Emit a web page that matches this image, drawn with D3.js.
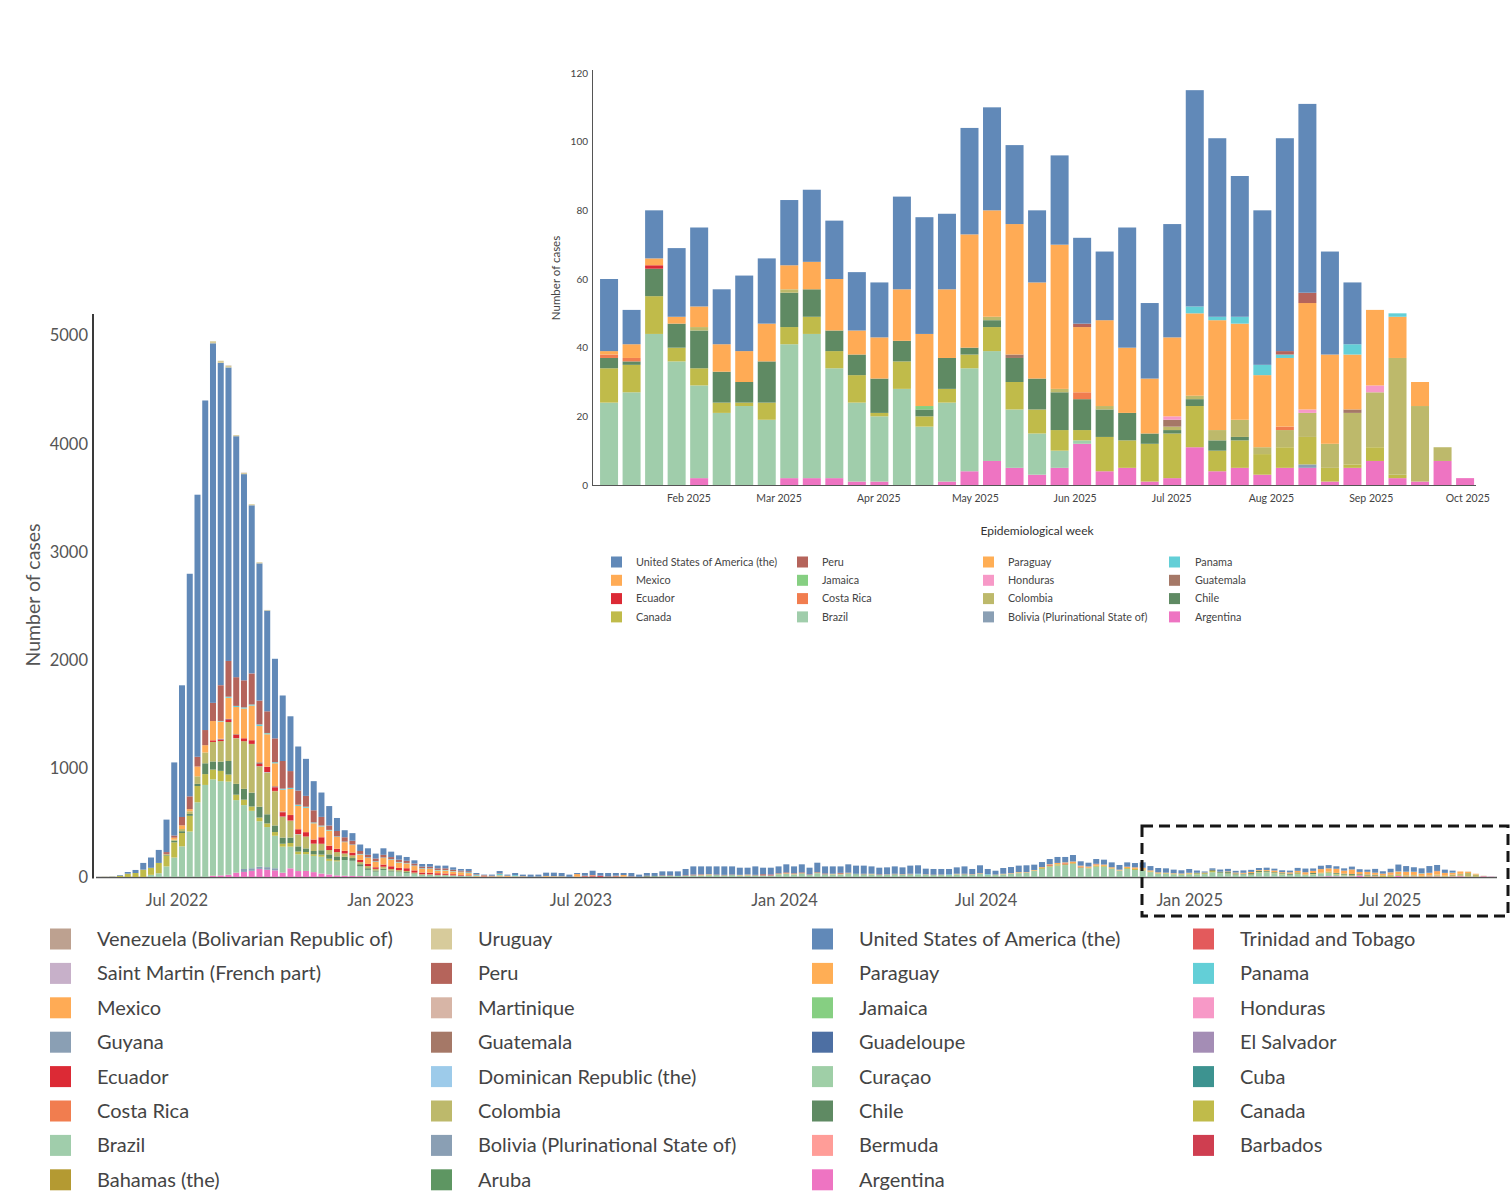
<!DOCTYPE html>
<html><head><meta charset="utf-8">
<script src="https://cdn.jsdelivr.net/npm/d3@7"></script>
<style>
body{margin:0;background:#fff;}
text{font-family:Lato,"Open Sans",sans-serif;}
</style>
</head><body>
<svg id="chart" width="1511" height="1196"></svg>
<script>
// ---------- categories (stack order bottom -> top) ----------
const countries = ["Argentina","Aruba","Bahamas (the)","Barbados","Bermuda","Bolivia (Plurinational State of)","Brazil","Canada","Chile","Colombia","Costa Rica","Cuba","Curaçao","Dominican Republic (the)","Ecuador","El Salvador","Guadeloupe","Guatemala","Guyana","Honduras","Jamaica","Martinique","Mexico","Panama","Paraguay","Peru","Saint Martin (French part)","Trinidad and Tobago","United States of America (the)","Uruguay","Venezuela (Bolivarian Republic of)"];
const countryColors = ["#ee74c2","#5e9662","#b49a32","#cf3e50","#ff9d98","#8a9fb4","#a0cdab","#c0bb4a","#5f8a63","#bdb96b","#f17d4f","#3d9390","#9fcfa7","#9dcbea","#dc2a35","#a48db5","#4d6fa3","#a57867","#8a9fb4","#f799c7","#86cf82","#d7b5a6","#ffab55","#63cfd7","#ffae55","#b5645b","#c7b0c9","#e35a5c","#6189b8","#d7cb9b","#bda190"];
const insetCountries = ["Argentina","Bolivia (Plurinational State of)","Brazil","Canada","Chile","Colombia","Costa Rica","Ecuador","Guatemala","Honduras","Jamaica","Mexico","Panama","Paraguay","Peru","United States of America (the)"];

// ---------- weekly series, 23 Apr 2022 - 28 Dec 2024 (141 weeks) ----------
const preUSA = [0,1,6,15,28,62,95,120,300,675,
1216,2055,2420,3043,3320,2975,2710,2225,1904,1552,
1267,930,735,605,506,407,342,269,225,180,
120,65,70,60,60,45,60,50,40,35,
30,25,25,25,25,22,15,20,10,5,
10,20,10,20,15,20,18,30,32,30,
20,10,25,40,25,30,25,19,30,20,
25,27,37,37,42,57,75,73,73,75,
78,75,66,63,78,60,63,63,74,63,
74,61,87,65,68,60,77,75,75,68,
61,65,68,64,75,78,53,52,52,50,
59,68,49,74,48,36,53,57,60,63,
49,47,48,55,50,60,40,35,44,45,
45,43,40,40,50,40,40,40,33,30,
35];
const preBrazil = [0,0,0,0,0,0,20,35,98,180,
283,420,690,850,890,870,860,670,590,530,
420,370,300,240,200,155,155,150,155,125,
130,145,140,90,60,45,60,45,40,35,
25,15,15,12,12,10,8,8,4,3,
3,5,2,3,2,2,2,3,3,3,
2,2,3,4,2,2,3,3,3,2,
3,5,10,10,10,12,15,15,15,18,
15,18,15,15,15,15,15,25,30,25,
30,20,35,25,25,25,30,25,25,25,
20,20,25,20,25,25,20,18,18,18,
25,25,20,28,20,18,25,30,35,40,
55,75,95,105,110,120,85,80,95,95,
75,60,75,65,60,45,30,30,25,22,
25];
const preCanada = [1,2,12,31,37,68,65,95,100,140,
123,145,150,100,90,95,65,50,50,40,
34,34,34,27,34,25,20,15,20,20,
10,0,0,0,0,0,0,0,0,0,
0,0,0,0,0,0,0,0,0,0,
0,0,0,0,0,0,0,0,0,0,
0,0,0,0,0,0,0,0,0,0,
0,0,0,0,0,0,0,0,5,0,
0,0,0,0,0,0,0,5,0,0,
0,0,0,0,0,0,0,0,0,0,
0,0,0,0,0,0,0,0,0,0,
0,0,0,0,0,0,0,0,5,0,
0,8,10,10,8,0,5,5,10,8,
5,0,8,10,10,6,5,5,5,5,
8];
const preChile = [0,0,0,0,0,0,0,0,10,15,
17,17,20,100,75,85,125,100,100,128,
100,84,61,57,50,48,33,30,40,40,
35,30,25,20,15,10,12,10,8,8,
6,4,4,3,3,2,2,0,0,0,
0,0,0,0,0,0,0,0,0,0,
0,0,0,0,0,0,0,0,0,0,
5,5,0,0,0,0,0,0,0,0,
0,0,0,0,0,0,0,0,0,0,
0,0,0,0,0,0,0,5];
const preColombia = [0,0,0,0,0,0,0,0,0,10,
20,25,70,100,180,190,360,420,440,450,
370,385,316,190,155,110,110,68,60,40,
40,30,25,20,20,15,18,14,12,10,
8,6,6,5,5,4,3,3,0,0,
0,0,0,0,0,0,0,0,0,0,
0,0,0,0,0,0,0,0,0,0,
0,0,0,0,0,0,0,0,0,0,
0,0,0,0,0,0,0,0,0,0,
5,0,5,0,0,0,5,0,0,0,
0,0,0,0,0,0,0,0,0,0,
0,0,0,0,0,0,0,0,0,0,
5,0,0,5,0,8];
const preEcuador = [0,0,0,0,0,0,0,0,0,0,
0,0,0,0,15,15,25,35,27,34,
20,50,34,40,50,45,40,38,60,40,
30,25,25,20,20,15,20,25,20,25,
20,15,15,15,12,10,6,5,0,4,
0,0,0,0,0,0,0,0,0,0,
0,0,5,10,10,0,4,0,0,0,
0,0,0,0,0,0,0,0,0,0,
0,0,0,0,0,3,8,0,0,0,
0,0,0,0,0,0,0,0,0,0,
0,0,0,0,0,0,0,0,0,0,
0,0,0,0,0,0,0,0,0,0,
0,0,5,0,7,0,5];
const preMexico = [0,0,0,0,0,0,0,0,5,18,
34,20,90,67,178,160,195,250,275,320,
335,300,212,200,240,215,225,150,100,140,
110,80,70,50,55,50,60,60,50,45,
40,35,35,25,28,25,25,20,8,5,
4,10,10,4,5,0,2,7,5,4,
0,25,4,4,0,0,5,15,0,0,
0,0,0,0,0,0,0,5,5,0,
0,0,5,8,0,0,0,0,5,5,
0,0,0,0,5,5,0,0,0,5,
0,4,0,5,0,0,4,0,4,0,
5,0,5,6,0,4,5,5,5,5,
5,8,8,10,10,15,10,12,12,12,
10,8,12,14,15,10,8,5,5,5,
6];
const prePeru = [0,0,0,0,0,0,0,0,17,20,
77,118,90,140,168,330,330,265,250,285,
220,200,220,255,155,130,100,112,80,40,
50,40,35,27,24,26,25,20,21,20,
18,14,15,15,15,12,10,10,5,5,
5,5,0,0,0,0,0,0,0,0,
0,0,0,0,0,5,0,0,4,0,
4,0,5,5,0,5,8,5,0,5,
5,5,0,0,5,8,0,5,8,5,
8,5,5,8,0,8,5,0,5,0,
5,0,5,0,5,0,0,4,0,0,
0,5,0,0,0,0,0,0,0,0,
0,0,0,0,0,0,0,0,5];
const preArgentina = [0,0,0,0,0,0,0,0,0,0,
0,0,0,0,10,15,20,40,47,57,
74,67,61,40,80,55,55,45,32,24,
15,12,10,8,6,5,5,5,4,3,
2,1];
const prePanama = [0,0,0,0,0,0,0,0,0,0,
0,0,0,0,0,5,10,10,10,10,
15,10,10,10,10,10,10,8,8,6,
5,5,5,5,5,5,5,5,5,4,
5,5,5,5,5,4,5,8,10,0,
0,15,0,10,0,0,0,0,0,0,
0,0,0,0,0,0,0,0,0,0,
0,0,0,0,0,0,0,0,0,0,
0,0,0,0,0,0,0,0,0,0,
0,0,0,0,0,0,0,0,0,0,
0,0,0,0,0,5,0,0,0,6,
0,0,0,0,6];
// small series as [week, cases]
const preBolivia = [[18,27],[19,24],[20,20],[21,24],[22,20]];
const preGuatemala = [[20,15],[22,7],[23,6]];
const preUruguay = [[14,19],[15,20],[16,15],[17,10],[18,10],[19,10],[20,10],[21,6]];
const preCostaRica = [[20,3],[22,3],[24,3]];
const preDominican = [[21,4],[23,4],[25,3]];
const preVenezuela = [[16,3],[18,3]];
const preGuadeloupe = [[15,3],[16,4]];
const preMartinique = [[15,3]];
const preJamaica = [[17,3]];
const preCuba = [[20,2]];
const preElSalvador = [[22,2]];
const preHonduras = [[23,2]];
const preParaguay = [[21,2],[25,2]];
const preGuyana = [[24,1]];
const preBahamas = [[14,2]];
const preAruba = [[20,1]];
const preBarbados = [[26,1]];
const preBermuda = [[16,1]];
const preSaintMartin = [[15,1]];
const preCuracao = [[17,2]];
const preTrinidad = [[19,2]];

// ---------- weekly series 2025 (39 weeks from 4 Jan 2025) ----------
const insetUSA = [21,10,14,20,23,16,22,19,19,21,17,17,16,27,34,22,31,30,23,21,26,25,20,35,22,33,63,52,41,45,62,55,30,18,0,0,0,0,0];
const insetBrazil = [24,27,44,36,27,21,23,19,39,42,32,23,19,28,17,23,30,32,17,12,5,1,0,0,0,0,0,0,0,0,0,0,0,0,0,0,0,0,0];
const insetCanada = [10,8,11,4,5,3,1,5,5,5,5,8,1,8,3,4,4,7,8,7,6,3,10,8,11,13,12,6,8,6,6,8,4,1,4,1,0,0,0];
const insetChile = [3,1,8,7,11,9,6,12,10,8,6,6,10,6,2,9,2,2,7,9,11,9,8,8,3,1,2,3,1,0,0,0,0,0,0,0,0,0,0];
const insetMexico = [1,4,2,2,6,8,9,11,7,8,15,7,12,15,21,20,33,31,38,28,42,19,25,19,16,23,24,32,28,21,20,31,26,16,22,12,7,0,0];
const insetArgentina = [0,0,0,0,2,0,0,0,2,2,2,1,1,0,0,1,4,7,5,3,5,12,4,5,1,2,11,4,5,3,5,5,1,5,7,2,1,7,2];
const insetColombia = [0,0,0,0,1,0,0,0,1,0,0,0,0,0,0,0,0,1,0,0,1,0,1,0,0,1,1,3,5,2,5,7,7,15,16,34,22,4,0];
const insetCostaRica = [[0,1],[1,1],[21,2],[30,1]];
const insetEcuador = [[2,1]];
const insetPanama = [[26,2],[27,1],[28,2],[29,3],[30,1],[33,3],[35,1]];
const insetPeru = [[21,1],[30,1],[31,3]];
const insetGuatemala = [[18,1],[25,2],[33,1]];
const insetHonduras = [[25,1],[31,1],[34,2]];
const insetJamaica = [[14,1]];
const insetBolivia = [[31,1]];
const insetParaguay = [];

// ---------- tick labels ----------
const mainTickLabels = ["Jul 2022","Jan 2023","Jul 2023","Jan 2024","Jul 2024","Jan 2025","Jul 2025"];
const mainYTicks = [0,1000,2000,3000,4000,5000];
const insetTickLabels = ["Feb 2025","Mar 2025","Apr 2025","May 2025","Jun 2025","Jul 2025","Aug 2025","Sep 2025","Oct 2025"];
const insetYTicks = [0,20,40,60,80,100,120];

// ---------- build tables ----------
const N_PRE = 141, N_INSET = 39;
function dense(a, n){
  const out = new Array(n).fill(0);
  if (a.length && Array.isArray(a[0])) a.forEach(([i,v]) => out[i] = v);
  else a.forEach((v,i) => out[i] = v);
  return out;
}
const preTable = {
  "United States of America (the)": preUSA, "Brazil": preBrazil, "Canada": preCanada, "Chile": preChile,
  "Colombia": preColombia, "Ecuador": preEcuador, "Mexico": preMexico, "Peru": prePeru,
  "Argentina": preArgentina, "Panama": prePanama, "Bolivia (Plurinational State of)": preBolivia,
  "Guatemala": preGuatemala, "Uruguay": preUruguay, "Costa Rica": preCostaRica,
  "Dominican Republic (the)": preDominican, "Venezuela (Bolivarian Republic of)": preVenezuela,
  "Guadeloupe": preGuadeloupe, "Martinique": preMartinique, "Jamaica": preJamaica, "Cuba": preCuba,
  "El Salvador": preElSalvador, "Honduras": preHonduras, "Paraguay": preParaguay, "Guyana": preGuyana,
  "Bahamas (the)": preBahamas, "Aruba": preAruba, "Barbados": preBarbados, "Bermuda": preBermuda,
  "Saint Martin (French part)": preSaintMartin, "Curaçao": preCuracao, "Trinidad and Tobago": preTrinidad
};
const insetTable = {
  "United States of America (the)": insetUSA, "Brazil": insetBrazil, "Canada": insetCanada, "Chile": insetChile,
  "Mexico": insetMexico, "Argentina": insetArgentina, "Colombia": insetColombia, "Costa Rica": insetCostaRica,
  "Ecuador": insetEcuador, "Panama": insetPanama, "Peru": insetPeru, "Guatemala": insetGuatemala,
  "Honduras": insetHonduras, "Jamaica": insetJamaica, "Bolivia (Plurinational State of)": insetBolivia,
  "Paraguay": insetParaguay
};
const color = d3.scaleOrdinal().domain(countries).range(countryColors);
const DAY = 864e5;
const mainStart = Date.UTC(2022,3,23);
const insetStart = Date.UTC(2025,0,4);

const insetRows = d3.range(N_INSET).map(i => {
  const r = {date: new Date(insetStart + i*7*DAY)};
  insetCountries.forEach(c => r[c] = 0);
  return r;
});
Object.entries(insetTable).forEach(([c,a]) => dense(a, N_INSET).forEach((v,i) => insetRows[i][c] = v));

const mainRows = d3.range(N_PRE + N_INSET).map(i => {
  const r = {date: new Date(mainStart + i*7*DAY)};
  countries.forEach(c => r[c] = 0);
  return r;
});
Object.entries(preTable).forEach(([c,a]) => dense(a, N_PRE).forEach((v,i) => mainRows[i][c] = v));
insetRows.forEach((r,i) => insetCountries.forEach(c => mainRows[N_PRE+i][c] = r[c]));

const svg = d3.select("#chart");
const parseMonth = d3.utcParse("%b %Y");

// ================= MAIN CHART =================
const xMain = d3.scaleUtc().domain([new Date(Date.UTC(2022,3,20)), new Date(Date.UTC(2025,9,5))]).range([97.3, 1496.3]);
const yMain = d3.scaleLinear().domain([0,5000]).range([877,335.5]);
const gMain = svg.append("g");

gMain.append("line").attr("x1",96).attr("x2",1497).attr("y1",877.5).attr("y2",877.5)
  .attr("stroke","#555").attr("stroke-width",1.3);

const mainStack = d3.stack().keys(countries)(mainRows);
gMain.selectAll("g.layer").data(mainStack).join("g").attr("class","layer")
  .attr("fill", d => color(d.key))
  .selectAll("rect").data(d => d.filter(p => p[1] - p[0] > 0)).join("rect")
  .attr("x", d => xMain(d.data.date) + 0.9)
  .attr("width", 6)
  .attr("y", d => yMain(d[1]))
  .attr("height", d => yMain(d[0]) - yMain(d[1]));

gMain.append("line").attr("x1",93).attr("x2",93).attr("y1",314).attr("y2",878.5)
  .attr("stroke","#3a3a3a").attr("stroke-width",2);

gMain.selectAll("text.yt").data(mainYTicks).join("text").attr("class","yt")
  .attr("x",88).attr("y", d => yMain(d)).attr("dy","0.35em").attr("text-anchor","end")
  .attr("font-size",16.5).attr("fill","#555").text(d => d);

gMain.append("text").attr("transform","translate(40,595) rotate(-90)").attr("text-anchor","middle")
  .attr("font-size",19.5).attr("fill","#555").text("Number of cases");

gMain.selectAll("text.xt").data(mainTickLabels).join("text").attr("class","xt")
  .attr("x", d => xMain(parseMonth(d))).attr("y",900).attr("dy","0.35em").attr("text-anchor","middle")
  .attr("font-size",16.5).attr("fill","#555").text(d => d);

// dashed highlight box
svg.append("rect").attr("x",1142).attr("y",826).attr("width",366).attr("height",90)
  .attr("fill","none").attr("stroke","#161616").attr("stroke-width",3).attr("stroke-dasharray","11,6");

// main legend
const mainLegend = countries.slice().reverse();
const lgX = [50,431,812,1193], lgT = [97,478,859,1240];
const lg = svg.append("g").selectAll("g").data(mainLegend).join("g")
  .attr("transform",(d,i) => `translate(0,${939 + Math.floor(i/4)*34.4})`);
lg.append("rect").attr("x",(d,i)=>lgX[i%4]).attr("y",-10.5).attr("width",21).attr("height",21).attr("fill",d=>color(d));
lg.append("text").attr("x",(d,i)=>lgT[i%4]).attr("y",0).attr("dy","0.35em")
  .attr("font-size",20).attr("fill","#444").text(d=>d);

// ================= INSET CHART =================
const xIn = d3.scaleUtc().domain([new Date(Date.UTC(2025,0,1)), new Date(Date.UTC(2025,9,3))]).range([589.2,1474.2]);
const yIn = d3.scaleLinear().domain([0,120]).range([485,73]);
const gIn = svg.append("g");

const inStack = d3.stack().keys(insetCountries)(insetRows);
gIn.selectAll("g.layer").data(inStack).join("g").attr("class","layer")
  .attr("fill", d => color(d.key))
  .selectAll("rect").data(d => d.filter(p => p[1] - p[0] > 0)).join("rect")
  .attr("x", d => xIn(d.data.date) + 1.2)
  .attr("width", 18)
  .attr("y", d => yIn(d[1]))
  .attr("height", d => yIn(d[0]) - yIn(d[1]));

gIn.append("line").attr("x1",592.5).attr("x2",592.5).attr("y1",70).attr("y2",485.5).attr("stroke","#555").attr("stroke-width",1);
gIn.append("line").attr("x1",592).attr("x2",1476).attr("y1",485.5).attr("y2",485.5).attr("stroke","#555").attr("stroke-width",1);

gIn.selectAll("text.yt").data(insetYTicks).join("text").attr("class","yt")
  .attr("x",588).attr("y", d => yIn(d)).attr("dy","0.35em").attr("text-anchor","end")
  .attr("font-size",10).attr("fill","#444").text(d => d);
gIn.append("text").attr("transform","translate(560,278) rotate(-90)").attr("text-anchor","middle")
  .attr("font-size",11.5).attr("fill","#444").text("Number of cases");
gIn.selectAll("text.xt").data(insetTickLabels).join("text").attr("class","xt")
  .attr("x", d => xIn(parseMonth(d))).attr("y",498).attr("dy","0.35em").attr("text-anchor","middle")
  .attr("font-size",10.5).attr("fill","#444").text(d => d);
gIn.append("text").attr("x",1037).attr("y",531).attr("dy","0.35em").attr("text-anchor","middle")
  .attr("font-size",12).attr("fill","#333").text("Epidemiological week");

const inLegend = insetCountries.slice().reverse();
const ilX = [611,797,983,1169], ilT = [636,822,1008,1195];
const il = gIn.append("g").selectAll("g").data(inLegend).join("g")
  .attr("transform",(d,i) => `translate(0,${562 + Math.floor(i/4)*18.3})`);
il.append("rect").attr("x",(d,i)=>ilX[i%4]).attr("y",-5.5).attr("width",11).attr("height",11).attr("fill",d=>color(d));
il.append("text").attr("x",(d,i)=>ilT[i%4]).attr("y",0).attr("dy","0.35em")
  .attr("font-size",10.8).attr("fill","#444").text(d=>d);
</script>
</body></html>
